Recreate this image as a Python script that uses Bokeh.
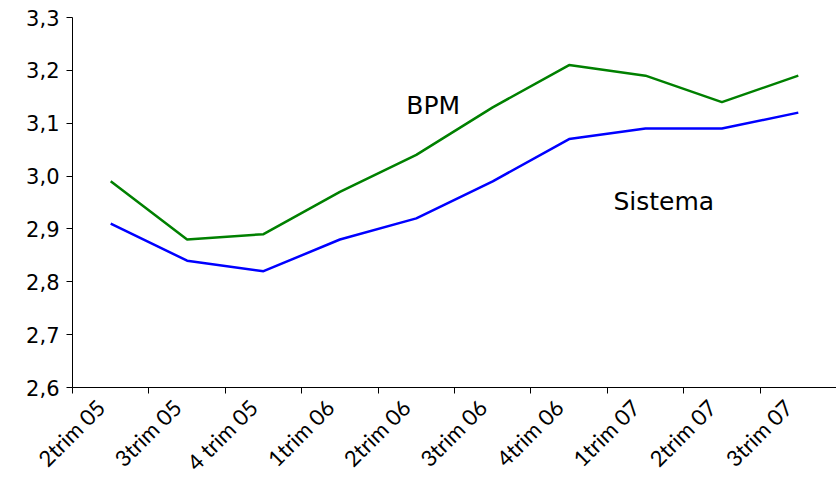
from bokeh.plotting import figure
from bokeh.models import FixedTicker, CustomJSTickFormatter, Label, Range1d
from bokeh.embed import file_html
from bokeh.resources import INLINE
import math

categories = ["2trim 05", "3trim 05", "4 trim 05", "1trim 06", "2trim 06",
              "3trim 06", "4trim 06", "1trim 07", "2trim 07", "3trim 07"]
bpm = [2.99, 2.88, 2.89, 2.97, 3.04, 3.13, 3.21, 3.19, 3.14, 3.19]
sistema = [2.91, 2.84, 2.82, 2.88, 2.92, 2.99, 3.07, 3.09, 3.09, 3.12]
y_ticks = [2.6, 2.7, 2.8, 2.9, 3.0, 3.1, 3.2, 3.3]

xs = [i + 0.5 for i in range(len(categories))]
label_pos = [x - 0.13 for x in xs]  # rotated labels sit slightly left of centre

p = figure(width=836, height=488, output_backend="svg", toolbar_location=None,
           x_range=Range1d(0, len(categories)), y_range=Range1d(2.6, 3.3),
           min_border_left=72, min_border_top=17, min_border_right=0, min_border_bottom=100)
p.outline_line_color = None
p.grid.visible = False
p.background_fill_color = "white"
p.border_fill_color = "white"

p.line(xs, bpm, line_color="#008000", line_width=2.5)
p.line(xs, sistema, line_color="#0000FF", line_width=2.5)

# x axis: labels centred in categories, ticks at boundaries
p.xaxis.ticker = FixedTicker(ticks=label_pos, minor_ticks=list(range(len(categories) + 1)))
p.xaxis.major_label_overrides = {x: c for x, c in zip(label_pos, categories)}
p.xaxis.major_tick_out = 0
p.xaxis.major_tick_in = 0
p.xaxis.minor_tick_out = 6
p.xaxis.minor_tick_in = 0
p.xaxis.minor_tick_line_color = "black"
p.xaxis.axis_line_color = "black"
p.xaxis.major_label_orientation = math.pi / 4
p.xaxis.major_label_text_font = "Lato"
p.xaxis.major_label_text_font_size = "22px"
p.xaxis.major_label_text_color = "black"
p.xaxis.major_label_standoff = 10

p.yaxis.ticker = FixedTicker(ticks=y_ticks)
p.yaxis.formatter = CustomJSTickFormatter(code="return tick.toFixed(1).replace('.', ',');")
p.yaxis.major_tick_out = 6
p.yaxis.major_tick_in = 0
p.yaxis.minor_tick_line_color = None
p.yaxis.axis_line_color = "black"
p.yaxis.major_label_text_font = "DejaVu Sans"
p.yaxis.major_label_text_font_size = "21px"
p.yaxis.major_label_text_color = "black"
p.yaxis.major_label_standoff = 7

p.add_layout(Label(x=4.37, y=3.134, text="BPM", text_font="DejaVu Sans",
                   text_font_size="25px", text_baseline="middle", text_align="left",
                   text_color="black"))
p.add_layout(Label(x=7.08, y=2.951, text="Sistema", text_font="DejaVu Sans",
                   text_font_size="25px", text_baseline="middle", text_align="left",
                   text_color="black"))

open("out.html", "w").write(file_html(p, INLINE))
